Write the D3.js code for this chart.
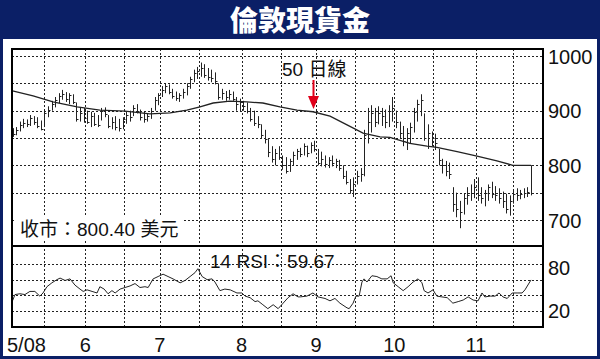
<!DOCTYPE html>
<html><head><meta charset="utf-8">
<script src="https://cdn.jsdelivr.net/npm/d3@7"></script>
<style>
html,body{margin:0;padding:0;background:#fff;}
svg{display:block;}
</style></head><body>
<svg id="c" width="600" height="359"></svg>
<script>
const titleText = "倫敦現貨金";
const maLabel = "50 日線";
const closeLabel = "收市：800.40 美元";
const rsiLabel = "14 RSI：59.67";
const monthLabels = ["5/08","6","7","8","9","10","11"];
const monthIdx = [0, 20.5, 41.5, 64.5, 85.5, 107.5, 130.5];
const gridIdx = [9, 20.5, 31.5, 41.5, 52.5, 64.5, 75.5, 85.5, 96.5, 107.5, 118.5, 130.5, 141];
const priceTicks = [1000, 900, 800, 700];
const priceGrid = [1000, 950, 900, 850, 800, 750, 700];
const rsiTicks = [80, 20];
const rsiGrid = [80, 60, 40, 20];

const high = [868,870,880,885,884,892,890,888,882,900,
908,918,925,932,938,934,932,930,915,905,
905,900,898,896,892,905,906,892,888,890,
885,888,898,900,910,912,902,898,895,905,
925,932,945,950,948,940,935,932,940,950,
962,975,980,988,985,978,975,970,950,940,
936,938,935,925,922,918,915,905,900,890,
875,865,848,835,830,835,818,815,812,825,
830,832,840,836,842,845,830,825,818,815,
818,812,810,800,790,775,778,790,795,865,
905,910,905,908,905,902,910,925,900,880,
872,868,878,905,920,930,895,875,862,858,
830,812,808,805,760,750,735,748,760,765,
775,778,760,755,765,770,762,758,752,748,
745,755,758,755,758,760,800];
const low = [852,855,862,868,870,872,874,868,864,870,
888,900,906,914,920,916,912,912,880,880,
878,876,870,872,870,882,888,868,866,864,
862,866,876,880,890,895,882,878,880,885,
900,910,925,932,930,922,918,916,922,928,
940,952,958,962,960,955,952,948,920,920,
918,920,918,900,898,900,895,880,872,868,
850,840,815,805,800,810,792,785,788,800,
810,815,818,815,822,825,800,798,796,795,
798,795,790,775,765,748,742,765,770,780,
840,860,870,875,872,868,870,880,868,848,
835,828,840,860,880,890,845,830,835,828,
800,785,780,775,715,705,685,710,728,735,
740,735,730,725,735,740,735,730,722,712,
708,730,735,738,740,742,745];
const close = [858,865,874,878,875,886,880,872,866,896,
902,912,920,926,930,922,928,915,885,895,
886,880,890,876,874,900,894,872,880,870,
868,884,892,888,905,900,888,884,890,900,
920,928,938,945,935,926,924,928,935,945,
958,968,972,978,966,962,960,955,925,932,
925,930,922,912,915,908,900,885,878,875,
856,848,825,812,822,815,800,790,808,818,
826,820,835,822,838,830,805,812,802,810,
804,808,795,780,770,755,765,780,785,855,
880,895,880,895,890,880,900,905,880,860,
845,860,870,898,912,920,850,860,850,840,
810,800,790,785,730,720,715,740,745,750,
760,745,740,750,760,748,745,740,735,720,
735,748,745,748,750,752,800.4];

const maIdx = [0,5.8,11.4,18.2,24.6,31.7,38.7,44.4,49.1,52.8,56.5,61.2,66,70.5,75.3,80.1,84.6,89.4,94.2,98.7,103.5,106.3,111.9,116.7,119.5,125.2,130.8,136.4,140.9,146];
const maVal = [936,927,916,907,901,899,894,896,901,907,914,917.5,916,914,907,901,898,890,874,859,852,851,840,835,833,825,817,808,800,800];

const rsiIdx = [0,0.7,2.1,3.5,4.9,6.3,7.7,8.6,9.7,11.1,12.5,13.4,14.8,16.2,17.6,19,19.9,21,22.4,23.8,24.6,25.8,26.9,28,28.9,30.3,31.7,33.1,34.5,35.9,37.3,38.2,39.6,41,42.4,43.8,45.2,47.2,48.6,50,51.4,52.2,53.4,54.8,56.2,57,58.4,59.8,61.3,63.2,64.6,65.5,66.9,68.3,69.1,70.5,71.9,73.4,74.8,76.2,77.6,79,80.4,81,82.9,84.6,86,88,89.4,90.8,92.2,94.2,94.8,95.9,96.7,97.6,98.4,99,99.8,101.2,102.6,104,105.5,106.6,107.2,108.6,110,111.4,112.8,114.2,115.3,115.9,117,118.4,119.5,120.9,122.4,124,125.5,126.9,128.3,129.7,131.1,132.2,133,134.5,135.9,137,138.1,139.3,140.7,142.1,143.5,144.3,146];
const rsiVal = [33,41,42,41,45,45,39,43,51,56,60,62,59,61,53,48,45,47,45,43,51,48,42,46,43,48,50,52,55,50,51,50,61,64,67,64,61,56,59,64,69,74,64,60,61,57,46,48,47,43,43,39,37,32,33,28,23,28,23,30,37,42,38,38,39,43,38,36,33,36,30,24,23,30,39,39,57,61,57,65,64,61,61,65,56,51,46,51,57,61,56,46,43,47,39,38,37,30,32,34,38,34,33,43,38,39,39,43,38,36,43,43,43,47,59.67];

const svg = d3.select("#c");
const W = 600, H = 359;
const navy = "#0b1f66";
const cjk = "'Liberation Sans', Arial, 'Noto Sans CJK TC', sans-serif";

// frame
svg.append("rect").attr("width", W).attr("height", H).attr("fill", navy);
svg.append("rect").attr("x", 3).attr("y", 39).attr("width", 594).attr("height", 317).attr("fill", "#fff");
svg.append("text").attr("x", 300).attr("y", 31).attr("text-anchor", "middle")
  .attr("fill", "#fff").attr("font-size", 28).attr("font-weight", 900)
  .attr("font-family", "'Noto Sans CJK TC', sans-serif").text(titleText);

const L = 12, R = 543, mainTop = 49, mainBot = 246, rsiBot = 327;
const x = d3.scaleLinear().domain([0, 146]).range([12.5, 531]);
const yP = d3.scaleLinear().domain([700, 1000]).range([220, 56]);
const yR = d3.scaleLinear().domain([20, 80]).range([311, 264]);
const px = v => Math.round(v) + 0.5;

const grid = svg.append("g").attr("stroke", "#222").attr("stroke-width", 1).attr("stroke-dasharray", "2,2");
priceGrid.forEach(v => grid.append("line").attr("x1", L).attr("x2", R).attr("y1", px(yP(v))).attr("y2", px(yP(v))));
rsiGrid.forEach(v => grid.append("line").attr("x1", L).attr("x2", R).attr("y1", px(yR(v))).attr("y2", px(yR(v))));
gridIdx.forEach(i => grid.append("line").attr("x1", px(x(i))).attr("x2", px(x(i))).attr("y1", mainTop).attr("y2", rsiBot));

// close label background + text
svg.append("rect").attr("x", 15).attr("y", 217).attr("width", 168).attr("height", 24).attr("fill", "#fff");
svg.append("text").attr("x", 20).attr("y", 236).attr("font-size", 19).attr("font-family", cjk).attr("fill", "#111").text(closeLabel);

// bars
const bars = svg.append("g").attr("stroke", "#222").attr("stroke-width", 1);
high.forEach((h, i) => {
  const cx = px(x(i));
  bars.append("line").attr("x1", cx).attr("x2", cx).attr("y1", yP(h)).attr("y2", yP(low[i]));
  bars.append("line").attr("x1", cx).attr("x2", cx + 2).attr("y1", px(yP(close[i]))).attr("y2", px(yP(close[i])));
});

// MA line
const maPts = maIdx.map((d, i) => [x(d), yP(maVal[i])]);
svg.append("path").attr("d", d3.line()(maPts)).attr("fill", "none").attr("stroke", "#222").attr("stroke-width", 1.3);

// RSI line
const rsiPts = rsiIdx.map((d, i) => [x(d), yR(rsiVal[i])]);
svg.append("path").attr("d", d3.line()(rsiPts)).attr("fill", "none").attr("stroke", "#222").attr("stroke-width", 1);

// panel borders
svg.append("rect").attr("x", L).attr("y", mainTop).attr("width", R - L).attr("height", mainBot - mainTop)
  .attr("fill", "none").attr("stroke", "#000").attr("stroke-width", 2);
svg.append("rect").attr("x", L).attr("y", mainBot).attr("width", R - L).attr("height", rsiBot - mainBot)
  .attr("fill", "none").attr("stroke", "#000").attr("stroke-width", 2);

// annotations
svg.append("text").attr("x", 282).attr("y", 76).attr("font-size", 19).attr("font-family", cjk).attr("fill", "#111").text(maLabel);
svg.append("line").attr("x1", 313.5).attr("x2", 313.5).attr("y1", 80).attr("y2", 98).attr("stroke", "#e0001a").attr("stroke-width", 2);
svg.append("path").attr("d", "M308,96 L319,96 L313.5,109 Z").attr("fill", "#e0001a");
svg.append("text").attr("x", 210).attr("y", 268).attr("font-size", 19).attr("font-family", cjk).attr("fill", "#111").text(rsiLabel);

// axis labels
const lab = svg.append("g").attr("font-size", 20).attr("font-family", cjk).attr("fill", "#111");
priceTicks.forEach(v => lab.append("text").attr("x", 548).attr("y", yP(v) + 7.5).text(v));
rsiTicks.forEach(v => lab.append("text").attr("x", 548).attr("y", yR(v) + (v === 80 ? 11 : 6.5)).text(v));
monthLabels.forEach((m, k) => {
  if (k === 0) lab.append("text").attr("x", 7).attr("y", 351.5).text(m);
  else lab.append("text").attr("x", x(monthIdx[k])).attr("y", 351.5).attr("text-anchor", "middle").text(m);
});
</script>
</body></html>
